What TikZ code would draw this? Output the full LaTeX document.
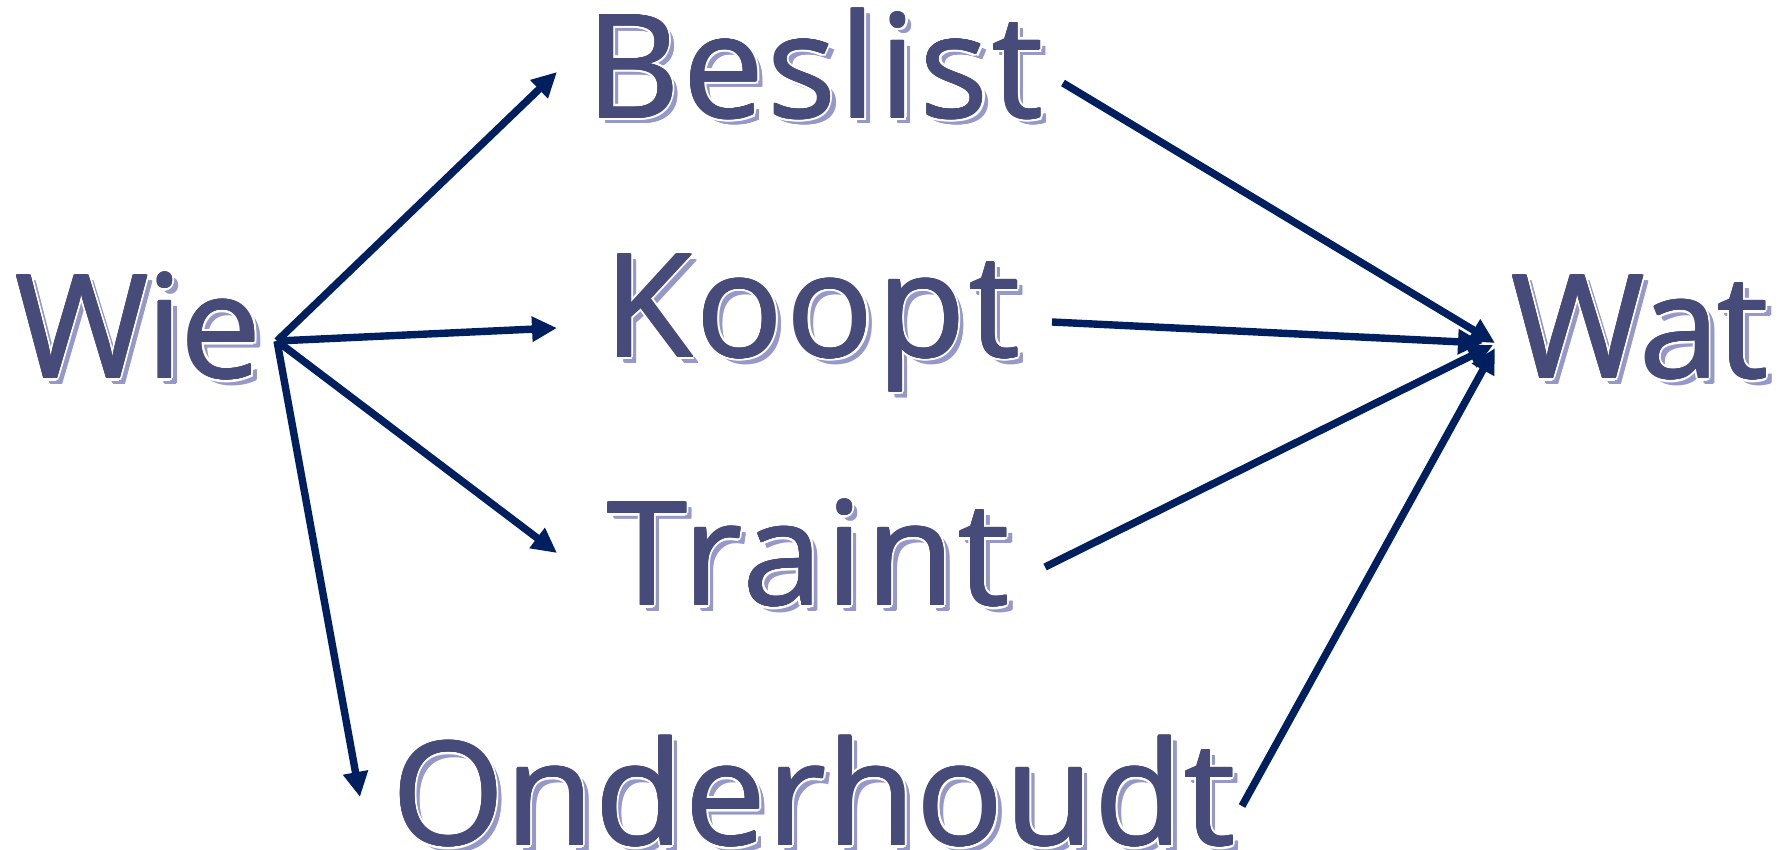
\documentclass[tikz,border=0pt]{standalone}
\usepackage{fontspec}
\setmainfont{Open Sans}
\newfontfamily\wfont{Open Sans}[LetterSpace=2.5]
\newfontfamily\wfonto{Open Sans}[LetterSpace=0.9]
\newfontfamily\wfontn{Open Sans}[LetterSpace=-1.5]
\usetikzlibrary{arrows.meta}
\definecolor{wordc}{HTML}{474B79}
\definecolor{shadc}{HTML}{9598C8}
\definecolor{arrc}{HTML}{001F5F}
\newcommand\fxcp[4]{\makebox[0pt][l]{\hspace*{#1}\raisebox{#2}{\textcolor{#3}{#4}}}}
\newcommand\fxring[4]{% radius, diagonal, colour, text
\fxcp{#1pt}{0pt}{#3}{#4}\fxcp{-#1pt}{0pt}{#3}{#4}%
\fxcp{0pt}{#1pt}{#3}{#4}\fxcp{0pt}{-#1pt}{#3}{#4}%
\fxcp{#2pt}{#2pt}{#3}{#4}\fxcp{-#2pt}{#2pt}{#3}{#4}%
\fxcp{#2pt}{-#2pt}{#3}{#4}\fxcp{-#2pt}{-#2pt}{#3}{#4}}
\newcommand\fxword[1]{%
\fxcp{3pt}{-3pt}{shadc}{#1}\fxcp{2.6pt}{-2.6pt}{shadc}{#1}\fxcp{3.2pt}{-2.6pt}{shadc}{#1}%
\fxring{1.5}{1.05}{white}{#1}%
\fxring{0.45}{0.32}{wordc}{#1}%
\textcolor{wordc}{#1}}
\begin{document}
\begin{tikzpicture}[x=0.5pt,y=-0.5pt,
  word/.style={anchor=base west,inner sep=0pt,font=\wfont\fontsize{72}{80}\selectfont},
  wordo/.style={word,font=\wfonto\fontsize{72}{80}\selectfont},
  wordn/.style={word,font=\wfontn\fontsize{72}{80}\selectfont},
  arr/.style={draw=arrc,line width=3.7pt,-{Triangle[length=12.5pt,width=12pt]}}]
\useasboundingbox[fill=white] (0,0) rectangle (1787,850);
\node[wordn] (wie) at (15,378) {\fxword{Wie}};
\node[word] (beslist) at (586,118) {\fxword{Beslist}};
\node[word] (koopt) at (604,357) {\fxword{Koopt}};
\node[word] (traint) at (607,605) {\fxword{Traint}};
\node[wordo] (onder) at (392,845) {\fxword{Onderhoudt}};
\node[wordn] (wat) at (1511,378) {\fxword{Wat}};
\coordinate (hub) at ([shift={(262,-37)}]wie.base west);
\draw[arr] (hub) -- ([shift={(-29,-46)}]beslist.base west);
\draw[arr] (hub) -- ([shift={(-47,-29)}]koopt.base west);
\draw[arr] (hub) -- ([shift={(-50,-52)}]traint.base west);
\draw[arr] (hub) -- ([shift={(-32,-48)}]onder.base west);
\draw[arr] ([shift={(477,-35)}]beslist.base west) -- ([shift={(-16,-35)}]wat.base west);
\draw[arr] ([shift={(448,-35)}]koopt.base west) -- ([shift={(-28,-35)}]wat.base west);
\draw[arr] ([shift={(438,-38)}]traint.base west) -- ([shift={(-18,-33)}]wat.base west);
\draw[arr] ([shift={(850,-39)}]onder.base west) -- ([shift={(-16,-30)}]wat.base west);
\end{tikzpicture}
\end{document}
